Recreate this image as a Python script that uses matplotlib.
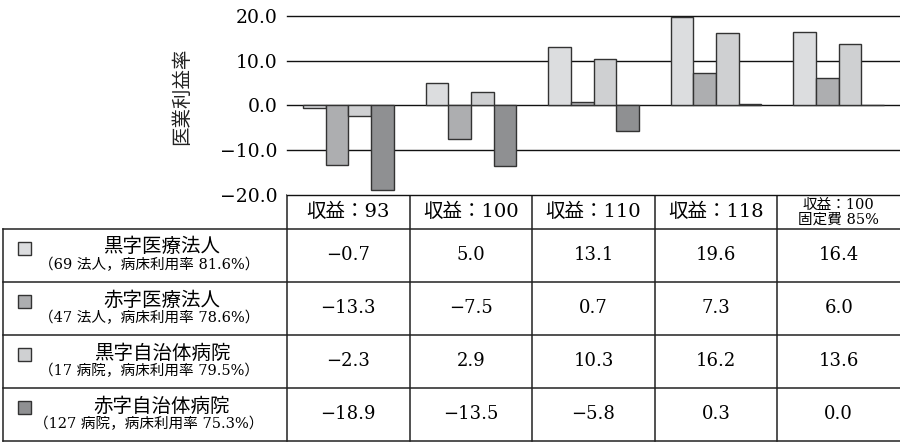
import numpy as np
import matplotlib.pyplot as plt
from matplotlib.patches import Rectangle

# data
categories = ['収益：93', '収益：100', '収益：110', '収益：118', '収益：100\n固定費 85%']
series_names = ['黒字医療法人', '赤字医療法人', '黒字自治体病院', '赤字自治体病院']
series_notes = ['（69 法人，病床利用率 81.6%）', '（47 法人，病床利用率 78.6%）',
                '（17 病院，病床利用率 79.5%）', '（127 病院，病床利用率 75.3%）']
kuroji_iryo = [-0.7, 5.0, 13.1, 19.6, 16.4]
akaji_iryo = [-13.3, -7.5, 0.7, 7.3, 6.0]
kuroji_jichi = [-2.3, 2.9, 10.3, 16.2, 13.6]
akaji_jichi = [-18.9, -13.5, -5.8, 0.3, 0.0]
yticks = [20, 10, 0, -10, -20]

series = [kuroji_iryo, akaji_iryo, kuroji_jichi, akaji_jichi]
colors = ['#dcdddf', '#adaeb0', '#cfd0d2', '#8f9092']
edge = '#333333'
num_font = ['DejaVu Serif', 'Noto Sans CJK JP']
jp_font = ['Noto Sans CJK JP', 'DejaVu Sans']

W, H = 900, 442
fig = plt.figure(figsize=(W / 100, H / 100), dpi=100)

# layout in pixels
x_left = 287
col_w = (W - x_left) / len(categories)
y_top, y_bot = 15.7, 195
rows = [229, 282, 335, 388, 441]


def fmt(v):
    return f'{v:.1f}'.replace('-', '\u2212')


# bar chart
ax = fig.add_axes([x_left / W, 1 - y_bot / H, (W - x_left) / W, (y_bot - y_top) / H])
x = np.arange(len(categories))
bw = 0.185
for i, vals in enumerate(series):
    ax.bar(x + (i - 1.5) * bw, vals, bw, color=colors[i], edgecolor=edge,
           linewidth=1.0, zorder=3)
for t in yticks:
    ax.axhline(t, color='#111111', lw=1.0, zorder=1, clip_on=False)
ax.set_xlim(-0.5, len(categories) - 0.5)
ax.set_ylim(-20, 20)
ax.set_yticks(yticks)
ax.set_yticklabels([fmt(t) for t in yticks], family=num_font, fontsize=13.5)
ax.tick_params(axis='y', length=0, pad=7)
ax.set_xticks([])
for s in ax.spines.values():
    s.set_visible(False)

# overlay in pixel coords for the table
ov = fig.add_axes([0, 0, 1, 1], zorder=-1)
ov.set_xlim(0, W)
ov.set_ylim(H, 0)
ov.axis('off')
ov.text(182, 96, '医業利益率', rotation=90, ha='center', va='center',
        family=jp_font, fontsize=14, color='#222222')

lc = '#222222'
col_edges = [x_left + k * col_w for k in range(len(categories) + 1)]
for cx in col_edges[:-1]:
    ov.plot([cx, cx], [y_bot, rows[-1]], color=lc, lw=1.1)
ov.plot([3, 3], [rows[0], rows[-1]], color=lc, lw=1.1)
for ry in rows:
    ov.plot([3, W], [ry, ry], color=lc, lw=1.1)

# header row
for j, cat in enumerate(categories):
    cx = x_left + (j + 0.5) * col_w
    if '\n' in cat:
        l1, l2 = cat.split('\n')
        ov.text(cx, 205, l1, ha='center', va='center', family=num_font, fontsize=10.5)
        ov.text(cx, 220, l2, ha='center', va='center', family=num_font, fontsize=10.5)
    else:
        ov.text(cx, 212, cat, ha='center', va='center', family=num_font, fontsize=14)

# data rows
for i, vals in enumerate(series):
    top = rows[i]
    ov.add_patch(Rectangle((18, top + 13), 13, 13, facecolor=colors[i],
                           edgecolor=edge, lw=1.0))
    ov.text(162, top + 18, series_names[i], ha='center', va='center',
            family=jp_font, fontsize=14)
    ov.text(149, top + 36, series_notes[i], ha='center', va='center',
            family=num_font, fontsize=10.5)
    for j, v in enumerate(vals):
        cx = x_left + (j + 0.5) * col_w
        ov.text(cx, top + 26, fmt(v), ha='center', va='center',
                family=num_font, fontsize=13)

fig.savefig('out.png', dpi=100)
